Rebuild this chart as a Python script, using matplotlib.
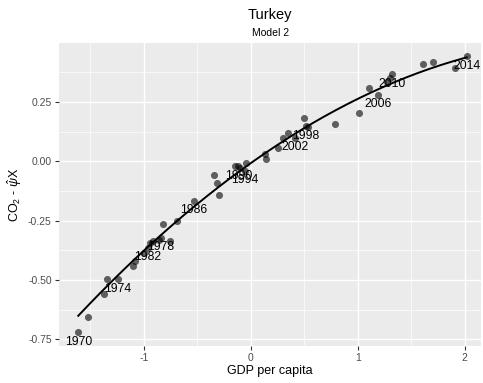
import numpy as np
import matplotlib
matplotlib.use("Agg")
import matplotlib.pyplot as plt
from matplotlib.ticker import MultipleLocator

plt.rcParams['font.family'] = ['Liberation Sans', 'DejaVu Sans']
plt.rcParams['mathtext.fontset'] = 'custom'
plt.rcParams['mathtext.rm'] = 'Liberation Sans'
plt.rcParams['mathtext.it'] = 'Liberation Sans:italic'

# yearly observations (GDP per capita vs residual CO2)
years = list(range(1970, 2015))
gdp = [-1.613, -1.519, -1.375, -1.344, -1.244, -1.098, -1.082, -0.942, -0.839,
       -0.855, -0.911, -0.755, -0.964, -0.824, -0.687, -1.000, -0.533,
       -0.343, -0.312, -0.293, -0.116, -0.147, -0.100, -0.047, -0.053,
       0.134, 0.143, 0.258, 0.514, 0.346, 0.501, 0.299, 0.410, 0.539,
       0.789, 1.013, 1.194, 1.107, 1.303, 1.270, 1.319, 1.609, 1.702,
       1.911, 2.020]
co2 = [-0.721, -0.655, -0.560, -0.496, -0.497, -0.443, -0.422, -0.346, -0.322,
       -0.332, -0.336, -0.336, -0.365, -0.266, -0.250, -0.385, -0.166,
       -0.058, -0.090, -0.142, -0.021, -0.018, -0.030, -0.008, -0.039,
       0.030, 0.010, 0.055, 0.147, 0.118, 0.184, 0.097, 0.098, 0.146,
       0.157, 0.202, 0.279, 0.308, 0.350, 0.335, 0.366, 0.410, 0.420,
       0.394, 0.443]
label_years = list(range(1970, 2015, 4))

# model 2 fitted curve: quadratic in GDP (x^2, x, const)
model_coef = [-0.049, 0.3196, -0.008]

gdp = np.array(gdp)
co2 = np.array(co2)

fig = plt.figure(figsize=(4.83, 3.83), dpi=100)
ax = fig.add_axes([0.1215, 0.0974, 0.8745, 0.7896])
ax.set_facecolor('#EBEBEB')
for s in ax.spines.values():
    s.set_visible(False)

ax.xaxis.set_major_locator(MultipleLocator(1))
ax.xaxis.set_minor_locator(MultipleLocator(0.5))
ax.yaxis.set_major_locator(MultipleLocator(0.25))
ax.yaxis.set_minor_locator(MultipleLocator(0.125))
ax.grid(which='major', color='white', linewidth=1.0)
ax.grid(which='minor', color='white', linewidth=0.5)
ax.set_axisbelow(True)
ax.tick_params(which='major', length=3, width=0.8, color='#333333',
               labelcolor='#4D4D4D', labelsize=7.5, pad=2)
ax.tick_params(which='minor', length=0)
ax.set_xticks([-1, 0, 1, 2])
ax.set_xticklabels(['-1', '0', '1', '2'])
ax.set_yticks([-0.75, -0.5, -0.25, 0, 0.25])
ax.set_yticklabels(['-0.75', '-0.50', '-0.25', '0.00', '0.25'])

ax.scatter(gdp, co2, s=26, color='black', alpha=0.6, linewidths=0, zorder=3)

xs = np.linspace(gdp.min(), gdp.max(), 200)
ax.plot(xs, np.polyval(model_coef, xs), color='black', linewidth=1.4, zorder=4)

for yr, x, y in zip(years, gdp, co2):
    if yr in label_years:
        ax.annotate(str(yr), (x, y), xytext=(0, -2.5), textcoords='offset points',
                    ha='center', va='top', fontsize=8.8, color='black', zorder=5)

ax.set_xlim(-1.796, 2.154)
ax.set_ylim(-0.777, 0.497)

ax.set_xlabel('GDP per capita', fontsize=9, labelpad=2)
ax.set_ylabel(r'CO$_2$ - $\hat{\psi}$X', fontsize=9, labelpad=3)

fig.text(0.5593, 0.961, 'Turkey', ha='center', va='center', fontsize=10.5)
fig.text(0.5593, 0.913, 'Model 2', ha='center', va='center', fontsize=7.5)

fig.savefig('out.png', dpi=100)
